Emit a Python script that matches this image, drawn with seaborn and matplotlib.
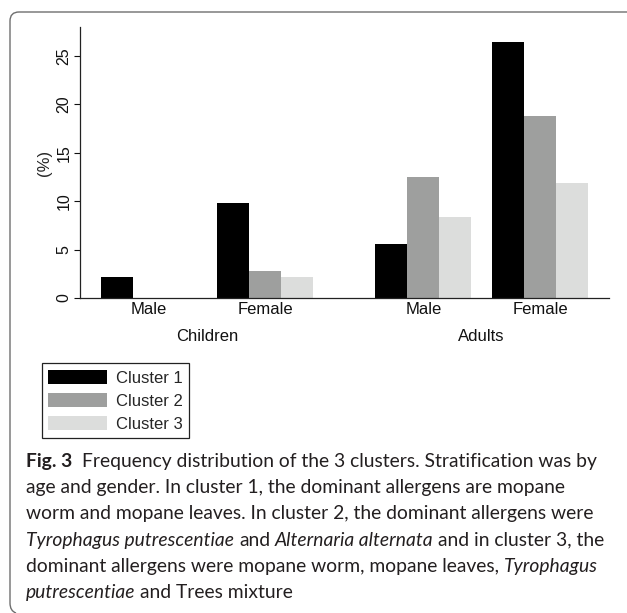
import numpy as np
import pandas as pd
import seaborn as sns
import matplotlib
matplotlib.use("Agg")
import matplotlib.pyplot as plt
from matplotlib.patches import Patch, PathPatch
from matplotlib.path import Path

# ---------------- data ----------------
age_groups = ["Children", "Children", "Adults", "Adults"]
genders = ["Male", "Female", "Male", "Female"]
clusters = ["Cluster 1", "Cluster 2", "Cluster 3"]
cluster1 = [2.17, 9.80, 5.61, 26.41]
cluster2 = [0.0, 2.82, 12.55, 18.78]
cluster3 = [0.0, 2.17, 8.39, 11.86]
y_ticks = [0, 5, 10, 15, 20, 25]
colors = ["#000000", "#9e9f9e", "#dcdddc"]

caption_lines = [
    [("Fig. 3", "bold"), ("Frequency distribution of the 3 clusters. Stratification was by", "normal")],
    [("age and gender. In cluster 1, the dominant allergens are mopane", "normal")],
    [("worm and mopane leaves. In cluster 2, the dominant allergens were", "normal")],
    [("Tyrophagus putrescentiae", "italic"), ("and", "normal"), ("Alternaria alternata", "italic"),
     ("and in cluster 3, the", "normal")],
    [("dominant allergens were mopane worm, mopane leaves,", "normal"), ("Tyrophagus", "italic")],
    [("putrescentiae", "italic"), ("and Trees mixture", "normal")],
]

# ---------------- layout constants ----------------
W, H = 627, 613
group_pos = [2.156, 5.781, 10.73, 14.375]   # slot centres (bar width = 1 unit)
x_max = 16.53

sns.set_theme(style="white")
plt.rcParams["font.family"] = ["Liberation Sans", "DejaVu Sans"]

fig = plt.figure(figsize=(W / 100, H / 100), dpi=100)
ax = fig.add_axes([80 / W, 1 - 298 / H, (609 - 80) / W, (298 - 27) / H])

rows = []
for i in range(len(genders)):
    for c, vals in zip(clusters, [cluster1, cluster2, cluster3]):
        rows.append({"pos": group_pos[i], "cluster": c, "value": vals[i]})
df = pd.DataFrame(rows)

native_w = np.min(np.diff(group_pos))
sns.barplot(data=df, x="pos", y="value", hue="cluster", hue_order=clusters,
            palette=dict(zip(clusters, colors)), native_scale=True,
            width=3.0 / native_w, errorbar=None, linewidth=0, saturation=1,
            legend=False, ax=ax)

ax.set_xlim(0, x_max)
ax.set_ylim(0, 28)
ax.set_xticks(group_pos)
ax.set_xticklabels(genders, fontsize=12)
ax.set_yticks(y_ticks)
ax.set_yticklabels([str(t) for t in y_ticks], rotation=90, fontsize=11.5, va="center")
ax.tick_params(axis="x", length=0, pad=3, colors="#111111")
ax.tick_params(axis="y", left=True, length=4, width=0.8, pad=2, direction="out", colors="#111111")
ax.set_xlabel("")
ax.set_ylabel("(%)", fontsize=12)
ax.yaxis.set_label_coords(-0.053, 0.5)
for s in ["top", "right"]:
    ax.spines[s].set_visible(False)
for s in ["left", "bottom"]:
    ax.spines[s].set_color("#222222")
    ax.spines[s].set_linewidth(0.9)
ax.set_facecolor("white")

# second-level (age group) labels
for age in ["Children", "Adults"]:
    xs = [p for p, a in zip(group_pos, age_groups) if a == age]
    ax.annotate(age, xy=(np.mean(xs), 0), xycoords="data",
                xytext=(0, -(336.7 - 298) * 0.72), textcoords="offset points",
                ha="center", va="center", fontsize=12, color="#111111")

# legend
handles = [Patch(facecolor=c, edgecolor="none", label=l) for c, l in zip(colors, clusters)]
leg = fig.legend(handles=handles, loc="upper left", bbox_to_anchor=(41.7 / W, 1 - 363.3 / H),
                 bbox_transform=fig.transFigure, borderaxespad=0, fontsize=12,
                 handlelength=3.5, handleheight=0.94, handletextpad=0.54,
                 labelspacing=0.42, borderpad=0.4, fancybox=False, framealpha=1,
                 edgecolor="#222222")
leg.get_frame().set_linewidth(0.9)

# rounded partial frame (top + left)
def fx(x):
    return x / W
def fy(y):
    return 1 - y / H
verts = [(fx(627), fy(12)), (fx(19), fy(12)), (fx(10), fy(12)), (fx(10), fy(21)),
         (fx(10), fy(603)), (fx(10), fy(611)), (fx(16), fy(613))]
codes = [Path.MOVETO, Path.LINETO, Path.CURVE3, Path.CURVE3, Path.LINETO, Path.CURVE3, Path.CURVE3]
fig.add_artist(PathPatch(Path(verts, codes), transform=fig.transFigure, fill=False,
                         edgecolor="#6e6e6e", linewidth=1.0))

# caption
cap_font = ["Lato", "DejaVu Sans"]
styles = {"normal": dict(fontweight="normal", fontstyle="normal"),
          "bold": dict(fontweight="bold", fontstyle="normal"),
          "italic": dict(fontweight="normal", fontstyle="italic")}
renderer = fig.canvas.get_renderer()

def width_px(s, st, size):
    t = fig.text(0, 0, s, family=cap_font, fontsize=size, **styles[st])
    w = t.get_window_extent(renderer).width
    t.remove()
    return w

def line_width(segs, size):
    sp = width_px("x x", "normal", size) - width_px("xx", "normal", size)
    tot = 0
    for si, (s, st) in enumerate(segs):
        tot += width_px(s, st, size)
        if si < len(segs) - 1:
            tot += 2 * sp if st == "bold" else sp
    return tot

# fit caption size so the first line spans the same width as the reference (x 26..597)
cap_size = 10 * 571.0 / line_width(caption_lines[0], 10)
space_w = width_px("x x", "normal", cap_size) - width_px("xx", "normal", cap_size)
y0, pitch = 466.7, 26.3
for li, segs in enumerate(caption_lines):
    x = 26.0
    yb = y0 + li * pitch
    for si, (s, st) in enumerate(segs):
        t = fig.text(fx(x), fy(yb), s, family=cap_font, fontsize=cap_size,
                     color="#231f20", va="baseline", ha="left", **styles[st])
        w = t.get_window_extent(renderer).width
        gap = 2 * space_w if st == "bold" else space_w
        x += w + gap

fig.savefig("out.png", dpi=100, facecolor="white")
